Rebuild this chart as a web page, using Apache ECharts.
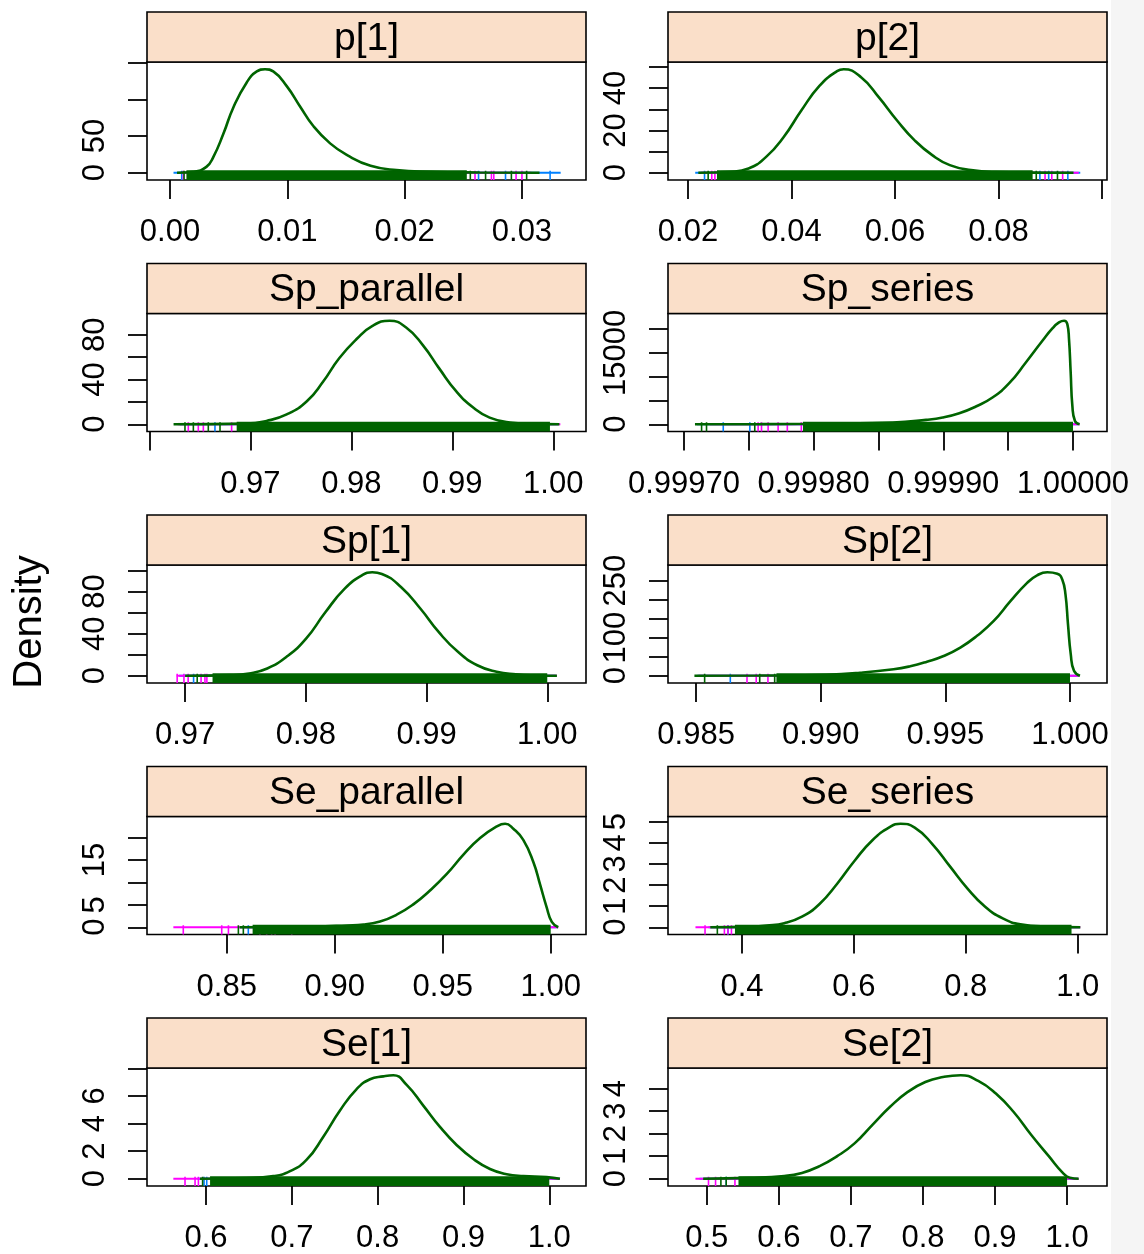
<!DOCTYPE html>
<html><head><meta charset="utf-8">
<script src="https://cdn.jsdelivr.net/npm/echarts@6/dist/echarts.min.js"></script>
<style>html,body{margin:0;padding:0;background:#fff}#c{width:1144px;height:1254px}</style>
</head><body><div id="c"></div>
<script>
// ---------------- DATA ----------------
const panelNames = ['p[1]','p[2]','Sp_parallel','Sp_series','Sp[1]','Sp[2]','Se_parallel','Se_series','Se[1]','Se[2]'];
const chainNames = ['chain1','chain2','chain3'];

// density curves (last chain, drawn on top) : [x, density]
const p1_curve = [[0.0006,0],[0.0020,1.4],[0.0031,8],[0.0037,21.6],[0.00455,53],[0.0054,89],[0.00654,123],[0.0074,138],[0.0081,141],[0.0088,138],[0.00995,118],[0.0111,90],[0.0122,64],[0.01365,40],[0.0151,24],[0.0171,9.5],[0.0193,3.6],[0.0222,1.4],[0.0264,0.4],[0.0315,0]];
const p2_curve = [[0.0220,0],[0.0283,0.5],[0.0317,2],[0.0351,7.5],[0.0385,16.9],[0.0419,29.4],[0.0454,41],[0.0488,48],[0.0501,48.9],[0.0535,45],[0.0569,35.6],[0.0604,24.7],[0.0638,15.3],[0.0672,8.3],[0.0706,3.6],[0.0747,1.25],[0.0794,0.3],[0.0863,0.05],[0.0945,0]];
const spPar_curve = [[0.9624,0],[0.9696,0.6],[0.9716,3],[0.9736,8.8],[0.9756,20.6],[0.9772,38],[0.9788,59],[0.9805,76],[0.9821,88],[0.9838,92.6],[0.9854,86.8],[0.9871,70.6],[0.9887,50],[0.9904,29.4],[0.9921,14.7],[0.9937,5.9],[0.9957,1.5],[0.9977,0.3],[1.0006,0]];
const spSer_curve = [[0.9997085,0],[0.9997585,30],[0.99981,100],[0.9998354,200],[0.999861,350],[0.9998867,920],[0.9998995,1400],[0.9999123,2310],[0.9999251,3720],[0.9999379,5610],[0.9999508,8620],[0.9999636,12970],[0.9999764,17530],[0.9999841,20120],[0.9999892,21380],[0.9999931,21730],[0.9999956,21030],[0.9999969,17880],[0.9999982,10870],[0.9999995,3860],[1.0000015,700],[1.0000051,0]];
const sp1_curve = [[0.9700,0],[0.9737,0.6],[0.9753,2.2],[0.9768,6.9],[0.9784,18],[0.9800,35],[0.9816,60],[0.9832,82.5],[0.9847,95.7],[0.9855,98.3],[0.9863,96.7],[0.9879,84],[0.9895,63.6],[0.9910,41.6],[0.9926,22.7],[0.9942,10],[0.9958,3.8],[0.9974,1.3],[0.9989,0.3],[1.0008,0]];
const sp2_curve = [[0.98493,0],[0.98755,0.5],[0.98889,1.2],[0.99023,2.6],[0.99157,7.8],[0.99292,17],[0.99359,25],[0.99426,37],[0.99493,52],[0.9956,74],[0.99627,105],[0.99694,144],[0.99761,196],[0.99828,244],[0.99868,264],[0.99909,272],[0.99949,268],[0.99969,253],[0.99982,213],[0.99992,135],[1.00003,57],[1.00016,13],[1.0004,0]];
const sePar_curve = [[0.8560,0],[0.8901,0.15],[0.9056,0.4],[0.9133,0.6],[0.9210,1.3],[0.9287,2.8],[0.9364,5.1],[0.9441,8.2],[0.9519,11.9],[0.9596,16.2],[0.9673,19.9],[0.9750,22.5],[0.9789,23.1],[0.9827,22.0],[0.9873,19.5],[0.9920,14.5],[0.9951,9.5],[0.9981,4.5],[1.0005,1.2],[1.0035,0]];
const seSer_curve = [[0.3433,0],[0.4126,0.03],[0.4441,0.08],[0.4756,0.19],[0.5071,0.5],[0.5386,1.1],[0.5701,2.06],[0.6016,3.16],[0.6331,4.12],[0.6646,4.75],[0.6835,4.9],[0.7087,4.72],[0.7402,3.94],[0.7717,2.88],[0.8031,1.83],[0.8346,0.97],[0.8661,0.42],[0.8976,0.14],[0.9480,0.03],[1.0047,0]];
const se1_curve = [[0.5930,0],[0.6474,0.05],[0.6784,0.19],[0.6979,0.55],[0.7173,1.38],[0.7367,3.05],[0.7561,4.95],[0.7755,6.5],[0.7911,7.21],[0.8066,7.42],[0.8183,7.5],[0.8338,6.8],[0.8532,5.3],[0.8726,3.76],[0.8920,2.45],[0.9115,1.43],[0.9309,0.71],[0.9503,0.33],[0.9697,0.19],[0.9969,0.12],[1.0124,0]];
const se2_curve = [[0.4950,0],[0.5587,0.04],[0.6076,0.12],[0.6321,0.26],[0.6566,0.56],[0.6810,1.0],[0.7055,1.58],[0.7299,2.39],[0.7544,3.19],[0.7789,3.85],[0.8033,4.29],[0.8278,4.51],[0.8523,4.59],[0.8767,4.34],[0.9012,3.78],[0.9256,2.97],[0.9501,1.95],[0.9746,1.0],[0.9941,0.26],[1.0039,0.04],[1.0161,0]];

// density support of the other chains [lo, hi] (their curves coincide with chain3 in between)
const p1_extent = [[0.0003,0.0333],[0.0010,0.0308]];
const p2_extent = [[0.0214,0.0958],[0.0225,0.0955]];
const spPar_extent = [[0.9630,1.0005],[0.9628,1.0007]];
const spSer_extent = [[0.99971,1.000004],[0.99972,1.000005]];
const sp1_extent = [[0.9695,1.0007],[0.9693,1.0008]];
const sp2_extent = [[0.98505,1.00035],[0.9851,1.00037]];
const sePar_extent = [[0.8560,1.0033],[0.8253,1.0035]];
const seSer_extent = [[0.3400,1.0040],[0.3168,1.0047]];
const se1_extent = [[0.5900,1.0120],[0.5619,1.0124]];
const se2_extent = [[0.4900,1.0150],[0.4843,1.0161]];

// rug: dense band of chain3 samples [lo, hi] and isolated tail samples per chain
const p1_rugBand = [0.0014,0.0253];
const p1_rug1 = [0.0010,0.0263,0.0286,0.0324];
const p1_rug2 = [0.00114,0.0260,0.0274,0.0276,0.0295,0.0300];
const p1_rug3 = [0.0012,0.0256,0.0269,0.0291,0.0304];
const p2_rugBand = [0.0256,0.0866];
const p2_rug1 = [0.0232,0.0880,0.0897,0.0934];
const p2_rug2 = [0.0246,0.0252,0.0890,0.0903,0.0924];
const p2_rug3 = [0.0239,0.0873,0.0914];
const spPar_rugBand = [0.96865,0.99967];
const spPar_rug1 = [0.9665];
const spPar_rug2 = [0.96386,0.96485,0.96535,0.96815];
const spPar_rug3 = [0.96353,0.96436,0.96584,0.9670];
const spSer_rugBand = [0.9997918,1.0];
const spSer_rug1 = [0.9997303,0.9997508];
const spSer_rug2 = [0.9997572,0.9997598,0.9997649,0.9997726,0.9997797,0.9997905];
const spSer_rug3 = [0.9997136,0.9997174,0.9997546];
const sp1_rugBand = [0.97227,1.0];
const sp1_rug1 = [0.9707];
const sp1_rug2 = [0.96934,0.96990,0.97025,0.97132,0.97164,0.97180];
const sp1_rug3 = [0.9710];
const sp2_rugBand = [0.98822,1.0];
const sp2_rug1 = [0.98637];
const sp2_rug2 = [0.98704,0.98741,0.98788];
const sp2_rug3 = [0.98534,0.98755,0.98815];
const sePar_rugBand = [0.8620,1.0];
const sePar_rug1 = [0.8600];
const sePar_rug2 = [0.8299,0.8477,0.8508,0.8654,0.8685,0.8708,0.8724,0.8801];
const sePar_rug3 = [0.8554,0.8577];
const seSer_rugBand = [0.3874,0.989];
const seSer_rug1 = [0.3750];
const seSer_rug2 = [0.3339,0.3685,0.3748,0.3811];
const seSer_rug3 = [0.3559];
const se1_rugBand = [0.6047,1.0];
const se1_rug1 = [0.5977,0.6008];
const se1_rug2 = [0.5755,0.5872,0.5911];
const se1_rug3 = [0.5960];
const se2_rugBand = [0.544,1.0];
const se2_rug1 = [0.5270];
const se2_rug2 = [0.5024,0.5122,0.5391];
const se2_rug3 = [0.5196,0.5270];

// axis ranges and ticks
const xLims = [[-0.00196,0.03546],[0.01614,0.10097],[0.95977,1.00324],[0.9996877,1.0000262],[0.96684,1.00321],[0.98387,1.001485],[0.8131,1.01634],[0.2677,1.0524],[0.5312,1.0428],[0.4462,1.0554]];
const xTicks = [[0,0.01,0.02,0.03],[0.02,0.04,0.06,0.08,0.10],[0.96,0.97,0.98,0.99,1.00],[0.99970,0.99975,0.99980,0.99985,0.99990,0.99995,1.00000],[0.97,0.98,0.99,1.00],[0.985,0.990,0.995,1.000],[0.85,0.90,0.95,1.00],[0.4,0.6,0.8,1.0],[0.6,0.7,0.8,0.9,1.0],[0.5,0.6,0.7,0.8,0.9,1.0]];
const xTickLabels = [['0.00','0.01','0.02','0.03'],['0.02','0.04','0.06','0.08'],['0.97','0.98','0.99','1.00'],['0.99970','0.99980','0.99990','1.00000'],['0.97','0.98','0.99','1.00'],['0.985','0.990','0.995','1.000'],['0.85','0.90','0.95','1.00'],['0.4','0.6','0.8','1.0'],['0.6','0.7','0.8','0.9','1.0'],['0.5','0.6','0.7','0.8','0.9','1.0']];
const yTicks = [[0,50,100,150],[0,10,20,30,40,50],[0,20,40,60,80],[0,5000,10000,15000,20000],[0,20,40,60,80,100],[0,50,100,150,200,250],[0,5,10,15,20],[0,1,2,3,4,5],[0,2,4,6,8],[0,1,2,3,4]];
const yTickLabels = [['0','50'],['0','20','40'],['0','40','80'],['0','15000'],['0','40','80'],['0','100','250'],['0','5','15'],['0','1','2','3','4','5'],['0','2','4','6'],['0','1','2','3','4']];
const yLabel = 'Density';

// ---------------- BUILD ----------------
const curves = [p1_curve,p2_curve,spPar_curve,spSer_curve,sp1_curve,sp2_curve,sePar_curve,seSer_curve,se1_curve,se2_curve];
const extents = [p1_extent,p2_extent,spPar_extent,spSer_extent,sp1_extent,sp2_extent,sePar_extent,seSer_extent,se1_extent,se2_extent];
const rugBands = [p1_rugBand,p2_rugBand,spPar_rugBand,spSer_rugBand,sp1_rugBand,sp2_rugBand,sePar_rugBand,seSer_rugBand,se1_rugBand,se2_rugBand];
const rugs1 = [p1_rug1,p2_rug1,spPar_rug1,spSer_rug1,sp1_rug1,sp2_rug1,sePar_rug1,seSer_rug1,se1_rug1,se2_rug1];
const rugs2 = [p1_rug2,p2_rug2,spPar_rug2,spSer_rug2,sp1_rug2,sp2_rug2,sePar_rug2,seSer_rug2,se1_rug2,se2_rug2];
const rugs3 = [p1_rug3,p2_rug3,spPar_rug3,spSer_rug3,sp1_rug3,sp2_rug3,sePar_rug3,seSer_rug3,se1_rug3,se2_rug3];

const COLORS = ['#0080ff','#ff00ff','#006400'];
const FONT = '"Liberation Sans", Arial, Helvetica, sans-serif';
const LAY = {colX:[147,668], w:439, top0:12, step:251.5, stripH:50, plotH:118};

function labelFor(list){
  const vals = list.map(parseFloat);
  return function(v){
    let best = 0, bd = Infinity;
    vals.forEach((u,k)=>{const d=Math.abs(u-v); if(d<bd){bd=d;best=k;}});
    return list[best];
  };
}
function tickRender(color){
  return function(params, api){
    const p = api.coord([api.value(0), 0]);
    const cs = params.coordSys;
    return {type:'line', shape:{x1:p[0], y1:p[1]-2, x2:p[0], y2:cs.y+cs.height}, style:{stroke:color, lineWidth:1.6}};
  };
}
function bandRender(color){
  return function(params, api){
    const a = api.coord([api.value(0), 0]);
    const b = api.coord([api.value(1), 0]);
    const cs = params.coordSys;
    const top = a[1]-2.5;
    return {type:'rect', shape:{x:a[0], y:top, width:b[0]-a[0], height:cs.y+cs.height-top}, style:{fill:color}};
  };
}

const grids=[], xAxes=[], yAxes=[], series=[], graphics=[];
// light grey margin at the far right of the screenshot
graphics.push({type:'rect', left:1111, top:0, shape:{width:33, height:1254}, style:{fill:'#f5f5f5'}, z:-10});

panelNames.forEach((name,i)=>{
  const col=i%2, row=Math.floor(i/2);
  const left=LAY.colX[col], stripTop=LAY.top0+row*LAY.step, top=stripTop+LAY.stripH;
  const peak=Math.max(...curves[i].map(d=>d[1]));
  grids.push({left:left, top:top, width:LAY.w, height:LAY.plotH, show:true, borderColor:'#000', borderWidth:1.6, backgroundColor:'#fff', containLabel:false, outerBoundsMode:'none'});
  xAxes.push({type:'value', gridIndex:i, min:xLims[i][0], max:xLims[i][1], scale:true,
    axisLine:{show:false, onZero:false}, splitLine:{show:false},
    axisTick:{show:true, length:19, lineStyle:{color:'#000', width:1.8}, customValues:xTicks[i]},
    axisLabel:{customValues:xTickLabels[i].map(parseFloat), formatter:labelFor(xTickLabels[i]), fontSize:31, fontFamily:FONT, color:'#000', margin:37, hideOverlap:false}});
  yAxes.push({type:'value', gridIndex:i, min:-0.07*peak, max:1.07*peak, scale:true,
    axisLine:{show:false, onZero:false}, splitLine:{show:false},
    axisTick:{show:true, length:19, lineStyle:{color:'#000', width:1.8}, customValues:yTicks[i]},
    axisLabel:{customValues:yTickLabels[i].map(parseFloat), formatter:labelFor(yTickLabels[i]), rotate:90, fontSize:31, fontFamily:FONT, color:'#000', margin:36, hideOverlap:false}});
  // chains 1 and 2 : rug ticks + density support
  [rugs1[i], rugs2[i]].forEach((r,c)=>{
    series.push({type:'custom', name:chainNames[c], xAxisIndex:i, yAxisIndex:i, renderItem:tickRender(COLORS[c]), data:r.map(v=>[v,0]), encode:{x:0,y:1}, silent:true, clip:false, z:1});
    series.push({type:'line', name:chainNames[c], xAxisIndex:i, yAxisIndex:i, data:extents[i][c].map(v=>[v,0]), symbol:'none', lineStyle:{color:COLORS[c], width:2}, silent:true, z:1});
  });
  // chain 3 : rug band + tail ticks + density curve
  series.push({type:'custom', name:chainNames[2], xAxisIndex:i, yAxisIndex:i, renderItem:bandRender(COLORS[2]), data:[[rugBands[i][0], rugBands[i][1], 0]], encode:{x:[0,1], y:2}, silent:true, clip:false, z:2});
  series.push({type:'custom', name:chainNames[2], xAxisIndex:i, yAxisIndex:i, renderItem:tickRender(COLORS[2]), data:rugs3[i].map(v=>[v,0]), encode:{x:0,y:1}, silent:true, clip:false, z:2});
  series.push({type:'line', name:chainNames[2], xAxisIndex:i, yAxisIndex:i, data:curves[i], symbol:'none', smooth:0.5, lineStyle:{color:COLORS[2], width:2.6}, silent:true, z:3});
  // strip
  graphics.push({type:'rect', shape:{x:left, y:stripTop, width:LAY.w, height:LAY.stripH}, style:{fill:'#fadfc9', stroke:'#000', lineWidth:1.6}, z:5});
  graphics.push({type:'text', x:left+LAY.w/2, y:stripTop+LAY.stripH/2+2, style:{text:name, align:'center', verticalAlign:'middle', fontSize:39, fontFamily:FONT, fill:'#000'}, z:6});
});
graphics.push({type:'text', x:30, y:622, rotation:Math.PI/2, style:{text:yLabel, align:'center', verticalAlign:'middle', fontSize:40, fontFamily:FONT, fill:'#000'}, z:6});

const chart = echarts.init(document.getElementById('c'), null, {renderer:'canvas'});
chart.setOption({
  animation:false, backgroundColor:'#fff',
  grid:grids, xAxis:xAxes, yAxis:yAxes, series:series, graphic:graphics
});
</script></body></html>
